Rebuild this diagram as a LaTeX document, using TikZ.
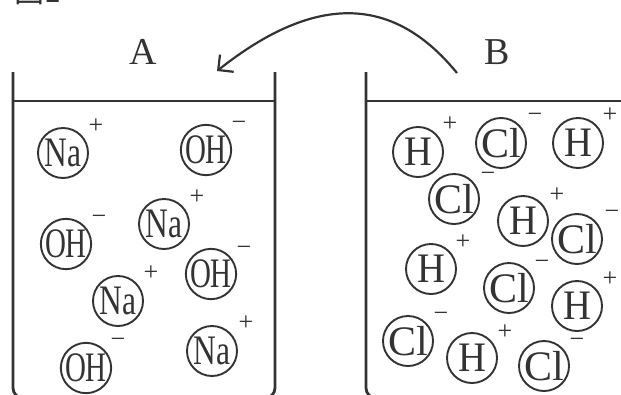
\documentclass[tikz,border=0pt]{standalone}
\usepackage{fontspec}
\setmainfont{Liberation Serif}
\newfontfamily\cjk{Noto Sans CJK JP}
\usetikzlibrary{arrows.meta}
\definecolor{ink}{HTML}{333333}
\newcommand{\thin}[2]{\scalebox{#1}[1]{#2}}
\begin{document}
\begin{tikzpicture}[x=1pt, y=-1pt, >={Straight Barb[length=11pt, width=22pt]}]
	\tikzstyle{ion}=[circle, draw=ink, line width=1.9pt, minimum size=50pt, inner sep=0pt, text=ink, font=\fontsize{42}{42}\selectfont]
	\tikzstyle{chg}=[inner sep=0pt, text=ink, font=\fontsize{26}{26}\selectfont]
	\tikzstyle{tag}=[inner sep=0pt, text=ink, font=\fontsize{38}{38}\selectfont]
	\tikzstyle{wall}=[draw=ink, line width=2.8pt, rounded corners=10pt]
	\useasboundingbox (0, 0) rectangle (621, 394);
	\draw node[anchor=base west, inner sep=0pt, text=ink, font=\cjk\fontsize{30}{30}\selectfont] at (14, 2) (fig) {図1};
	\draw node[tag] at (143, 52) (labA) {A};
	\draw node[tag] at (497, 52) (labB) {B};

	% beakers
	\draw [wall] (13, 72) -- (13, 398) -- (275, 398) -- (275, 72);
	\draw [draw=ink, line width=2.8pt] (13, 101) -- (275, 101);
	\draw [wall] (366, 72) -- (366, 398) -- (640, 398);
	\draw [draw=ink, line width=2.8pt] (366, 101) -- (625, 101);

	% beaker A
	\draw node[ion] at (63, 153) (na1) {\thin{0.75}{Na}};
	\draw node[chg] at (96, 126) (na1c) {+};
	\draw node[ion] at (206, 150) (oh1) {\thin{0.69}{OH}};
	\draw node[chg] at (239, 126) (oh1c) {−};
	\draw node[ion] at (66, 244) (oh2) {\thin{0.69}{OH}};
	\draw node[chg] at (99, 220) (oh2c) {−};
	\draw node[ion] at (164, 224) (na2) {\thin{0.75}{Na}};
	\draw node[chg] at (197, 197) (na2c) {+};
	\draw node[ion] at (211, 274) (oh3) {\thin{0.69}{OH}};
	\draw node[chg] at (244, 251) (oh3c) {−};
	\draw node[ion] at (118, 301) (na3) {\thin{0.75}{Na}};
	\draw node[chg] at (151, 273) (na3c) {+};
	\draw node[ion] at (86, 368) (oh4) {\thin{0.69}{OH}};
	\draw node[chg] at (118, 343) (oh4c) {−};
	\draw node[ion] at (212, 351) (na4) {\thin{0.75}{Na}};
	\draw node[chg] at (246, 323) (na4c) {+};

	% beaker B
	\draw node[ion] at (418, 152) (h1) {\thin{0.92}{H}};
	\draw node[chg] at (450, 124) (h1c) {+};
	\draw node[ion] at (501, 143) (cl1) {Cl};
	\draw node[chg] at (535, 118) (cl1c) {−};
	\draw node[ion] at (578, 143) (h2) {\thin{0.92}{H}};
	\draw node[chg] at (610, 115) (h2c) {+};
	\draw node[ion] at (454, 199) (cl2) {Cl};
	\draw node[chg] at (488, 177) (cl2c) {−};
	\draw node[ion] at (523, 221) (h3) {\thin{0.92}{H}};
	\draw node[chg] at (557, 195) (h3c) {+};
	\draw node[ion] at (577, 239) (cl3) {Cl};
	\draw node[chg] at (612, 215) (cl3c) {−};
	\draw node[ion] at (431, 269) (h4) {\thin{0.92}{H}};
	\draw node[chg] at (463, 242) (h4c) {+};
	\draw node[ion] at (509, 288) (cl4) {Cl};
	\draw node[chg] at (542, 265) (cl4c) {−};
	\draw node[ion] at (577, 306) (h5) {\thin{0.92}{H}};
	\draw node[chg] at (610, 279) (h5c) {+};
	\draw node[ion] at (408, 341) (cl5) {Cl};
	\draw node[chg] at (441, 317) (cl5c) {−};
	\draw node[ion] at (472, 358) (h6) {\thin{0.92}{H}};
	\draw node[chg] at (505, 332) (h6c) {+};
	\draw node[ion] at (544, 366) (cl6) {Cl};
	\draw node[chg] at (577, 343) (cl6c) {−};

	% pouring arrow
	\coordinate (fromB) at (457, 73);
	\coordinate (intoA) at (217, 71);
	\draw [->, draw=ink, line width=2.2pt] (fromB) .. controls (395, -3) and (318, -9) .. (intoA);
\end{tikzpicture}
\end{document}
